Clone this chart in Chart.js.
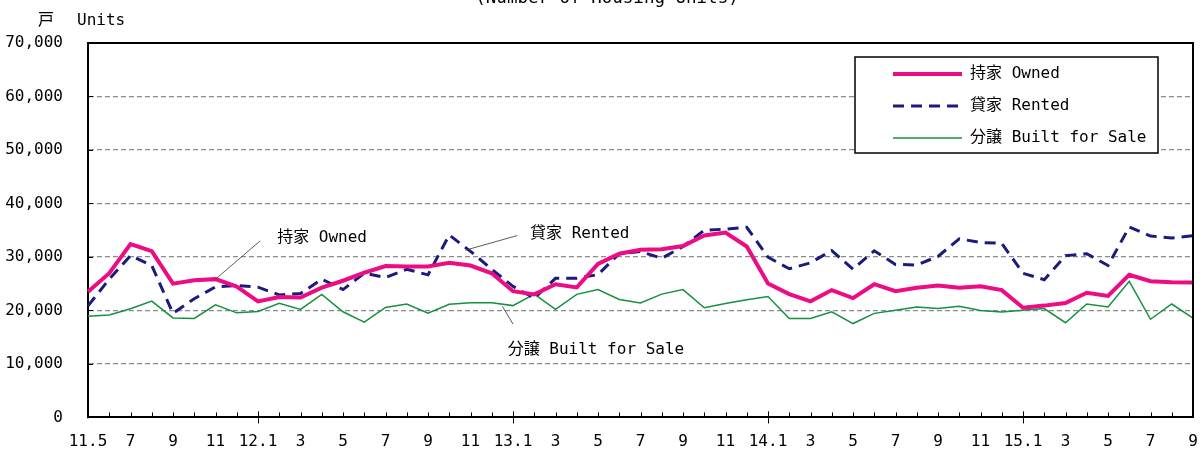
<!DOCTYPE html>
<html>
<head>
<meta charset="utf-8">
<script src="https://cdn.jsdelivr.net/npm/chart.js@4.4.0/dist/chart.umd.min.js"></script>
<style>
  html, body { margin: 0; padding: 0; background: #fff; }
  #wrap { width: 1203px; height: 452px; position: relative; }
</style>
</head>
<body>
<div id="wrap"><canvas id="housingChart"></canvas></div>
<script>
const months = [
  "11.5", "6", "7", "8", "9", "10", "11", "12",
  "12.1", "2", "3", "4", "5", "6", "7", "8", "9", "10", "11", "12",
  "13.1", "2", "3", "4", "5", "6", "7", "8", "9", "10", "11", "12",
  "14.1", "2", "3", "4", "5", "6", "7", "8", "9", "10", "11", "12",
  "15.1", "2", "3", "4", "5", "6", "7", "8", "9",
];

const owned = [
  23500, 26950, 32400, 31100, 25000, 25650, 25850, 24450, 21700, 22500, 22400,
  24250, 25550, 27050, 28300, 28200, 28200, 28900, 28400, 26950, 23600, 23000,
  24900, 24300, 28700, 30600, 31350, 31450, 32050, 34000, 34550, 31950, 25050,
  23050, 21700, 23800, 22300, 24900, 23600, 24250, 24650, 24250, 24500, 23800,
  20500, 20900, 21400, 23300, 22700, 26650, 25450, 25250, 25200,
];

const rented = [
  20850, 25850, 30250, 28400, 19450, 22200, 24400, 24650, 24350, 22900, 23150,
  25850, 23900, 26950, 26150, 27700, 26650, 34100, 31050, 27700, 24500, 22300,
  26000, 26000, 26700, 30600, 31000, 29750, 31950, 35000, 35200, 35550, 29950,
  27800, 28900, 31200, 27700, 31150, 28600, 28500, 30100, 33400, 32700, 32550,
  26950, 25750, 30250, 30600, 28400, 35600, 33900, 33550, 33950,
];

const builtForSale = [
  18900, 19150, 20300, 21750, 18600, 18500, 21050, 19550, 19800, 21350, 20200,
  23000, 19750, 17800, 20550, 21200, 19500, 21150, 21450, 21450, 20900, 23050,
  20200, 23000, 23900, 22050, 21400, 23050, 23900, 20500, 21300, 22000, 22600,
  18500, 18500, 19750, 17550, 19450, 20050, 20650, 20350, 20800, 20000, 19700,
  20050, 20350, 17700, 21200, 20650, 25450, 18350, 21200, 18550,
];

const seriesNames = ["持家 Owned", "貸家 Rented", "分譲 Built for Sale"];
const yTicks = [0, 10000, 20000, 30000, 40000, 50000, 60000, 70000];

const FONT = "'DejaVu Sans Mono', 'Noto Sans CJK JP', monospace";

// callout labels in the plot: leader from/to and text spot, as (index, value)
const callouts = [
  { text: "持家 Owned", from: [6, 25850], to: [8.1, 33000], at: [8.9, 33500] },
  { text: "貸家 Rented", from: [17.75, 31250], to: [20.2, 34000], at: [20.8, 34400] },
  { text: "分譲 Built for Sale", from: [19.5, 20770], to: [20.0, 17460], at: [19.75, 12600] },
];

const decor = {
  id: "decor",
  afterDatasetsDraw(chart) {
    const { ctx, chartArea: a, scales: { x, y } } = chart;
    ctx.save();

    // frame top + right
    ctx.strokeStyle = "#000";
    ctx.lineWidth = 2;
    ctx.beginPath();
    ctx.moveTo(a.left, a.top);
    ctx.lineTo(a.right, a.top);
    ctx.lineTo(a.right, a.bottom);
    ctx.stroke();

    // inner tick marks
    ctx.lineWidth = 1;
    ctx.beginPath();
    months.forEach((m, i) => {
      const px = Math.round(x.getPixelForValue(i)) + 0.5;
      if (i > 0 && m.includes(".")) {
        ctx.moveTo(px, a.bottom - 6);
        ctx.lineTo(px, a.bottom + 6);
      } else {
        ctx.moveTo(px, a.bottom - 5);
        ctx.lineTo(px, a.bottom);
      }
    });
    yTicks.forEach((v) => {
      const py = Math.round(y.getPixelForValue(v)) + 0.5;
      ctx.moveTo(a.left, py);
      ctx.lineTo(a.left + 5, py);
    });
    ctx.stroke();

    // callouts
    ctx.font = "16px " + FONT;
    ctx.fillStyle = "#000";
    ctx.textBaseline = "middle";
    ctx.textAlign = "left";
    ctx.strokeStyle = "#333";
    ctx.lineWidth = 0.8;
    callouts.forEach((c) => {
      ctx.beginPath();
      ctx.moveTo(x.getPixelForValue(c.from[0]), y.getPixelForValue(c.from[1]));
      ctx.lineTo(x.getPixelForValue(c.to[0]), y.getPixelForValue(c.to[1]));
      ctx.stroke();
      ctx.fillText(c.text, x.getPixelForValue(c.at[0]), y.getPixelForValue(c.at[1]));
    });

    // legend box
    const lx = 855, ly = 57, lw = 303, lh = 96;
    ctx.fillStyle = "#fff";
    ctx.fillRect(lx, ly, lw, lh);
    ctx.strokeStyle = "#000";
    ctx.lineWidth = 1.5;
    ctx.strokeRect(lx, ly, lw, lh);
    chart.data.datasets.forEach((ds, i) => {
      const ry = 74 + i * 32;
      ctx.strokeStyle = ds.borderColor;
      ctx.lineWidth = ds.borderWidth;
      ctx.setLineDash(ds.borderDash || []);
      ctx.beginPath();
      ctx.moveTo(893, ry);
      ctx.lineTo(962, ry);
      ctx.stroke();
      ctx.setLineDash([]);
      ctx.fillStyle = "#000";
      ctx.fillText(ds.label, 970, ry);
    });

    // unit and (cut-off) title
    ctx.fillText("戸", 38, 21);
    ctx.fillText("Units", 77, 21);
    ctx.font = "17.5px " + FONT;
    ctx.textAlign = "center";
    ctx.textBaseline = "alphabetic";
    ctx.fillText("(Number of Housing Units)", 607, 3);
    ctx.restore();
  },
};

const ctx = document.getElementById("housingChart");

new Chart(ctx, {
  type: "line",
  data: {
    labels: months,
    datasets: [
      {
        label: seriesNames[0],
        data: owned,
        borderColor: "#EC0C83",
        borderWidth: 4,
        pointRadius: 0,
        tension: 0,
      },
      {
        label: seriesNames[1],
        data: rented,
        borderColor: "#1B1B7E",
        borderWidth: 3,
        borderDash: [11, 7],
        pointRadius: 0,
        tension: 0,
      },
      {
        label: seriesNames[2],
        data: builtForSale,
        borderColor: "#17903F",
        borderWidth: 1.5,
        pointRadius: 0,
        tension: 0,
      },
    ],
  },
  options: {
    responsive: true,
    maintainAspectRatio: false,
    animation: false,
    layout: {
      padding: { top: 43, right: 10, left: 0, bottom: 0 },
    },
    scales: {
      x: {
        offset: false,
        grid: { display: false, drawTicks: false },
        border: { color: "#000", width: 2 },
        ticks: {
          autoSkip: false,
          maxRotation: 0,
          padding: 15,
          color: "#000",
          font: { family: FONT, size: 16 },
          callback: (v, i) => (i % 2 === 0 ? months[i] : ""),
        },
        afterFit: (s) => {
          s.height = 29;
          s.paddingLeft = 0;
          s.paddingRight = 10;
        },
      },
      y: {
        min: 0,
        max: 70000,
        afterBuildTicks: (s) => { s.ticks = yTicks.map((v) => ({ value: v })); },
        grid: {
          drawTicks: false,
          color: (c) => (c.tick.value === 0 || c.tick.value === 70000 ? "rgba(0,0,0,0)" : "#8c8c8c"),
          lineWidth: 1.2,
        },
        border: { color: "#000", width: 2, dash: [5, 3] },
        ticks: {
          padding: 25,
          color: "#000",
          font: { family: FONT, size: 16 },
          callback: (v) => v.toLocaleString("en-US"),
        },
        afterFit: (s) => { s.width = 88; },
      },
    },
    plugins: {
      legend: { display: false },
      tooltip: { enabled: false },
    },
  },
  plugins: [decor],
});
</script>
</body>
</html>
